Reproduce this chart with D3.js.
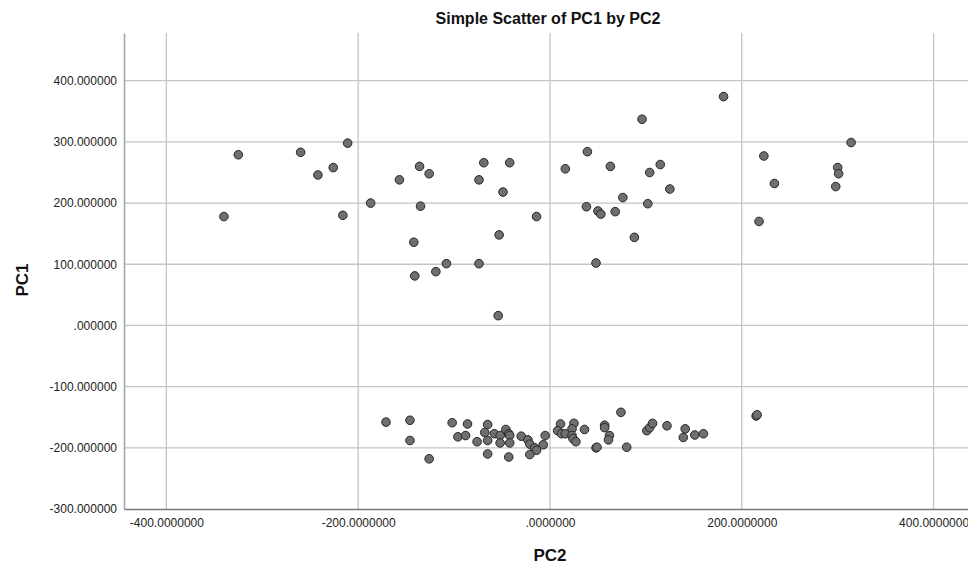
<!DOCTYPE html>
<html>
<head>
<meta charset="utf-8">
<script src="https://cdn.jsdelivr.net/npm/d3@7/dist/d3.min.js"></script>
<style>
  html, body { margin: 0; padding: 0; background: #fff; }
  svg { display: block; font-family: "Liberation Sans", Arial, Helvetica, sans-serif; }
</style>
</head>
<body>
<svg id="chart" width="968" height="569"></svg>
<script>
// PC2 (horizontal) and PC1 (vertical) scores, upper group
const pc2Upper = [-340, -325, -260, -242, -226, -211, -216, -187, -157, -136, -126, -135,
  -142, -141, -119, -108, -74, -69, -74, -53, -49, -42, -54, -14, 16, 39, 63, 96, 181,
  115, 104, 125, 76, 102, 38, 50, 53, 68, 88, 48, 223, 314, 300, 301, 298, 234, 218];
const pc1Upper = [178, 279, 283, 246, 258, 298, 180, 200, 238, 260, 248, 195,
  136, 81, 88, 101, 238, 266, 101, 148, 218, 266, 16, 178, 256, 284, 260, 337, 374,
  263, 250, 223, 209, 199, 194, 187, 182, 186, 144, 102, 277, 299, 258, 248, 227, 232, 170];

// lower group
const pc2Lower = [-171, -146, -146, -126, -102, -86, -96, -88, -76, -65, -68, -65, -65,
  -58, -52, -52, -46, -43, -42, -42, -43, -30, -23, -21, -16, -14, -21, -7, -5, 11, 8,
  12, 16, 25, 23, 23, 24, 27, 36, 57, 57, 62, 61, 48, 49, 74, 80, 101, 104, 107, 122,
  141, 139, 151, 160, 215, 216];
const pc1Lower = [-158, -155, -188, -218, -159, -161, -182, -180, -190, -162, -175, -188, -210,
  -177, -180, -192, -170, -177, -180, -192, -215, -181, -187, -194, -200, -204, -211, -195, -180, -161, -172,
  -177, -177, -160, -169, -180, -185, -190, -170, -163, -167, -180, -187, -200, -199, -142, -199, -172, -167, -160, -164,
  -169, -183, -179, -177, -148, -146];

const xTicks = [-400, -200, 0, 200, 400];
const yTicks = [-300, -200, -100, 0, 100, 200, 300, 400];
const xTickLabels = ["-400.0000000", "-200.0000000", ".0000000", "200.0000000", "400.0000000"];
const yTickLabels = ["-300.000000", "-200.000000", "-100.000000", ".000000",
  "100.000000", "200.000000", "300.000000", "400.000000"];

const titleText = "Simple Scatter of PC1 by PC2";
const xTitle = "PC2";
const yTitle = "PC1";

const points = pc2Upper.map((v, i) => ({ pc2: v, pc1: pc1Upper[i] }))
  .concat(pc2Lower.map((v, i) => ({ pc2: v, pc1: pc1Lower[i] })));

const svg = d3.select("#chart");
const box = { left: 124, right: 968, top: 33, bottom: 509 };

const x = d3.scaleLinear().domain([-444.2, 435.9]).range([box.left, box.right]);
const y = d3.scaleLinear().domain([-300, 478]).range([box.bottom, box.top]);

// grid lines
const grid = svg.append("g");
grid.selectAll("line.gx").data(xTicks).join("line")
  .attr("x1", d => x(d)).attr("x2", d => x(d))
  .attr("y1", box.top).attr("y2", box.bottom)
  .attr("stroke", "#c4c4c4").attr("stroke-width", 1.3);
grid.selectAll("line.gy").data(yTicks.filter(d => d > -300)).join("line")
  .attr("x1", box.left).attr("x2", box.right)
  .attr("y1", d => y(d)).attr("y2", d => y(d))
  .attr("stroke", "#c4c4c4").attr("stroke-width", 1.3);

// axes
const yAxis = d3.axisLeft(y).tickValues(yTicks).tickSize(0).tickPadding(7)
  .tickFormat((d, i) => yTickLabels[i]);
const gy = svg.append("g").attr("transform", `translate(${box.left},0)`).call(yAxis);
gy.select(".domain").attr("stroke", "#a8a8a8").attr("stroke-width", 1.6);
gy.selectAll("text").attr("font-size", 12).attr("fill", "#222")
  .attr("font-family", "Liberation Sans, Arial, sans-serif");

const xAxis = d3.axisBottom(x).tickValues(xTicks).tickSize(0).tickPadding(9)
  .tickFormat((d, i) => xTickLabels[i]);
const gx = svg.append("g").attr("transform", `translate(0,${box.bottom})`).call(xAxis);
gx.select(".domain").attr("stroke", "#777").attr("stroke-width", 1.6);
gx.selectAll("text").attr("font-size", 12).attr("fill", "#222")
  .attr("font-family", "Liberation Sans, Arial, sans-serif");

// points
svg.append("g").selectAll("circle").data(points).join("circle")
  .attr("cx", d => x(d.pc2))
  .attr("cy", d => y(d.pc1))
  .attr("r", 4.3)
  .attr("fill", "#6f6f6f")
  .attr("stroke", "#262626")
  .attr("stroke-width", 1);

// titles
svg.append("text").attr("x", 548).attr("y", 24).attr("text-anchor", "middle")
  .attr("font-size", 16).attr("font-weight", "bold").attr("fill", "#111")
  .text(titleText);
svg.append("text").attr("x", 550).attr("y", 561).attr("text-anchor", "middle")
  .attr("font-size", 17).attr("font-weight", "bold").attr("fill", "#111")
  .text(xTitle);
svg.append("text").attr("transform", "translate(28,280) rotate(-90)")
  .attr("text-anchor", "middle")
  .attr("font-size", 17).attr("font-weight", "bold").attr("fill", "#111")
  .text(yTitle);
</script>
</body>
</html>
